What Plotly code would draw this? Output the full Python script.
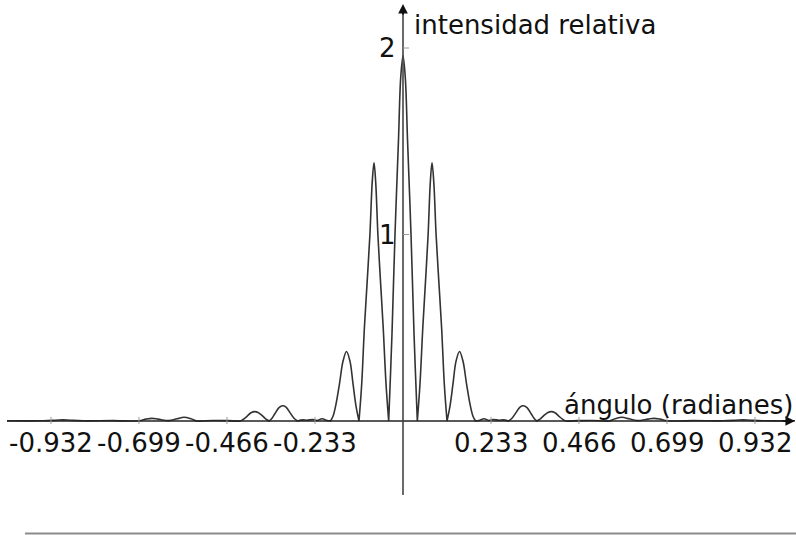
import plotly.graph_objects as go

# ---- data (angle in radians, relative intensity) ----
angle_left = [-1.0485, -0.9531, -0.9187, -0.9002, -0.8817, -0.8472, -0.7678, -0.6990,
              -0.6804, -0.6646, -0.6487, -0.6200, -0.5984, -0.5798, -0.5613, -0.5454,
              -0.5030, -0.4633, -0.4316, -0.4236, -0.4130, -0.4024, -0.3926, -0.3839,
              -0.3733, -0.3627, -0.3540, -0.3540, -0.3468, -0.3389, -0.3283, -0.3185,
              -0.3098, -0.2992, -0.2886, -0.2793, -0.2793, -0.2648, -0.2542, -0.2383,
              -0.2277, -0.2145, -0.2012, -0.1920, -0.1920, -0.1853, -0.1774, -0.1681,
              -0.1589, -0.1496, -0.1403, -0.1324, -0.1244, -0.1165, -0.1165, -0.1093,
              -0.1022, -0.0948, -0.0876, -0.0815, -0.0768, -0.0723, -0.0665, -0.0596,
              -0.0524, -0.0450, -0.0379, -0.0379, -0.0291, -0.0212, -0.0119, -0.0061]
intensity_left = [0.001, 0.001, 0.004, 0.006, 0.004, 0.001, 0.002, 0.001,
                  0.010, 0.014, 0.010, 0.002, 0.012, 0.020, 0.012, 0.0,
                  0.003, 0.002, 0.0, 0.008, 0.025, 0.044, 0.050, 0.046,
                  0.030, 0.010, 0.0, 0.0, 0.015, 0.040, 0.072, 0.082,
                  0.075, 0.045, 0.015, 0.0, 0.0, 0.006, 0.004, 0.008,
                  0.003, 0.012, 0.003, 0.0, 0.0, 0.025, 0.09, 0.20,
                  0.32, 0.373, 0.32, 0.20, 0.08, 0.0, 0.0, 0.20,
                  0.50, 0.75, 1.00, 1.28, 1.385, 1.28, 1.00, 0.75,
                  0.50, 0.20, 0.0, 0.0, 0.47, 1.00, 1.51, 1.84]

angle_right = [0.0, 0.0061, 0.0119, 0.0212, 0.0291, 0.0379, 0.0379, 0.0450,
               0.0524, 0.0596, 0.0665, 0.0723, 0.0768, 0.0815, 0.0876, 0.0948,
               0.1022, 0.1093, 0.1165, 0.1165, 0.1244, 0.1324, 0.1403, 0.1496,
               0.1589, 0.1681, 0.1774, 0.1853, 0.1920, 0.1920, 0.2012, 0.2145,
               0.2277, 0.2383, 0.2542, 0.2648, 0.2793, 0.2793, 0.2886, 0.2992,
               0.3098, 0.3185, 0.3283, 0.3389, 0.3468, 0.3540, 0.3540, 0.3627,
               0.3733, 0.3839, 0.3926, 0.4024, 0.4130, 0.4236, 0.4316, 0.4633,
               0.5030, 0.5454, 0.5613, 0.5798, 0.5984, 0.6200, 0.6487, 0.6646,
               0.6804, 0.6990, 0.7678, 0.8472, 0.8817, 0.9002, 0.9187, 0.9531,
               1.0379]
intensity_right = [1.96, 1.84, 1.51, 1.00, 0.47, 0.0, 0.0, 0.20,
                   0.50, 0.75, 1.00, 1.28, 1.385, 1.28, 1.00, 0.75,
                   0.50, 0.20, 0.0, 0.0, 0.08, 0.20, 0.32, 0.373,
                   0.32, 0.20, 0.09, 0.025, 0.0, 0.0, 0.003, 0.012,
                   0.003, 0.008, 0.004, 0.006, 0.0, 0.0, 0.015, 0.045,
                   0.075, 0.082, 0.072, 0.040, 0.015, 0.0, 0.0, 0.010,
                   0.030, 0.046, 0.050, 0.044, 0.025, 0.008, 0.0, 0.002,
                   0.003, 0.0, 0.012, 0.020, 0.012, 0.002, 0.010, 0.014,
                   0.010, 0.001, 0.002, 0.001, 0.004, 0.006, 0.004, 0.001,
                   0.001]

angle = angle_left + angle_right
intensity = intensity_left + intensity_right
assert len(angle) == len(intensity)

x_tick_values = [-0.932, -0.699, -0.466, -0.233, 0.233, 0.466, 0.699, 0.932]
x_tick_labels = ["-0.932", "-0.699", "-0.466", "-0.233", "0.233", "0.466", "0.699", "0.932"]
y_tick_values = [1, 2]
y_tick_labels = ["1", "2"]
x_title = "ángulo (radianes)"
y_title = "intensidad relativa"

# ---- figure ----
FONT = "DejaVu Sans"
FS = 26
X_RANGE = [-1.0670, 1.0405]
Y_RANGE = [-0.6113, 2.2574]

fig = go.Figure()
fig.add_trace(go.Scatter(
    x=angle, y=intensity, mode="lines",
    line=dict(color="#333333", width=1.6, shape="spline", smoothing=1.0, simplify=False),
    hoverinfo="skip", showlegend=False,
))

shapes = []
# horizontal axis
shapes.append(dict(type="line", xref="x", yref="y", x0=-1.0485, x1=1.025, y0=0, y1=0,
                   line=dict(color="#222222", width=1.6)))
# vertical axis
shapes.append(dict(type="line", xref="x", yref="y", x0=0, x1=0, y0=-0.397, y1=2.22,
                   line=dict(color="#444444", width=1.6)))
# x ticks
for v in x_tick_values:
    shapes.append(dict(type="line", xref="x", yref="y", x0=v, x1=v, y0=-0.016, y1=0.022,
                       line=dict(color="#9a9a9a", width=1)))
# y ticks
for v in y_tick_values:
    shapes.append(dict(type="line", xref="x", yref="y", x0=0, x1=0.016, y0=v, y1=v,
                       line=dict(color="#9a9a9a", width=1)))
# bottom separator line
shapes.append(dict(type="line", xref="x", yref="y", x0=-1.0008, x1=X_RANGE[1], y0=-0.603, y1=-0.603,
                   line=dict(color="#8c8c8c", width=2)))

annotations = []
# arrow heads
annotations.append(dict(x=1.0379, y=0, ax=1.0, ay=0, xref="x", yref="y", axref="x", ayref="y",
                        text="", showarrow=True, arrowhead=2, arrowsize=1.2, arrowwidth=1.6,
                        arrowcolor="#111111"))
annotations.append(dict(x=0, y=2.236, ax=0, ay=2.17, xref="x", yref="y", axref="x", ayref="y",
                        text="", showarrow=True, arrowhead=2, arrowsize=1.2, arrowwidth=1.6,
                        arrowcolor="#111111"))
# tick labels
for v, t in zip(x_tick_values, x_tick_labels):
    annotations.append(dict(x=v, y=-0.117, xref="x", yref="y", text=t, showarrow=False,
                            xanchor="center", yanchor="middle",
                            font=dict(family=FONT, size=FS, color="#111111")))
for v, t in zip(y_tick_values, y_tick_labels):
    annotations.append(dict(x=-0.0125, y=v, xref="x", yref="y", text=t, showarrow=False,
                            xanchor="right", yanchor="middle",
                            font=dict(family=FONT, size=FS, color="#111111")))
# axis titles
annotations.append(dict(x=1.0379, y=0.088, xref="x", yref="y", text=x_title, showarrow=False,
                        xanchor="right", yanchor="middle",
                        font=dict(family=FONT, size=FS, color="#111111")))
annotations.append(dict(x=0.0225, y=2.124, xref="x", yref="y", text=y_title, showarrow=False,
                        xanchor="left", yanchor="middle",
                        font=dict(family=FONT, size=FS, color="#111111")))

fig.update_layout(
    width=796, height=535,
    margin=dict(l=0, r=0, t=0, b=0),
    paper_bgcolor="white", plot_bgcolor="white",
    xaxis=dict(range=X_RANGE, visible=False, fixedrange=True),
    yaxis=dict(range=Y_RANGE, visible=False, fixedrange=True),
    shapes=shapes, annotations=annotations,
    showlegend=False,
)

fig.write_html("out.html", config={"displayModeBar": False},
               post_script="document.body.style.margin='0px';document.body.style.overflow='hidden';")
